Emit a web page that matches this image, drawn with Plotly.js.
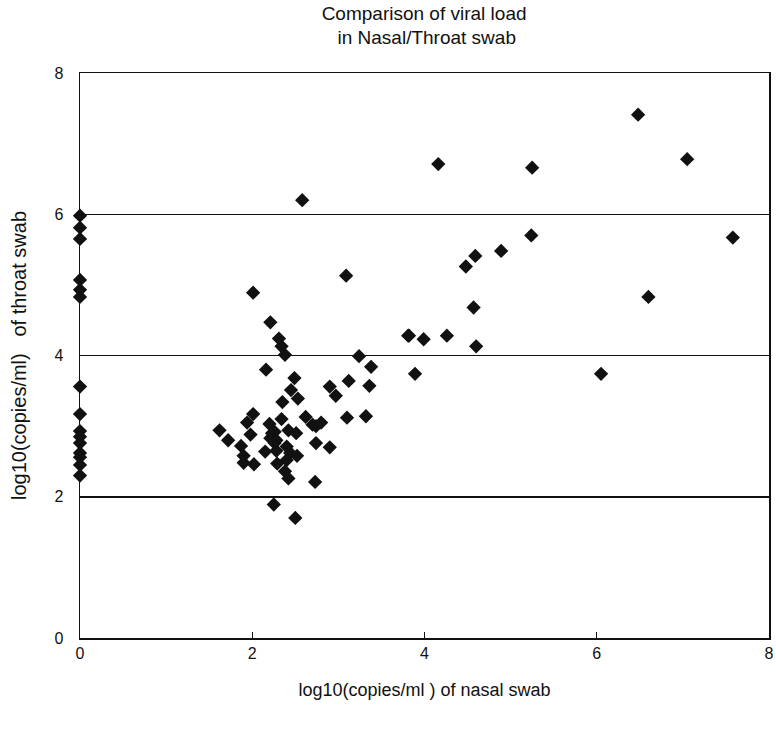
<!DOCTYPE html>
<html>
<head>
<meta charset="utf-8">
<script src="https://cdn.plot.ly/plotly-3.0.1.min.js"></script>
<style>body{margin:0;background:#fff}#chart{width:776px;height:729px}</style>
</head>
<body>
<div id="chart"></div>
<script>
// Nasal swab log10 values (x) and throat swab log10 values (y)
const nasalZero = [0,0,0,0,0,0,0,0,0,0,0,0,0,0,0];
const throatZero = [5.98,5.81,5.65,5.07,4.93,4.83,3.56,3.17,2.93,2.85,2.76,2.62,2.56,2.45,2.30];

const nasalCluster = [2.21,2.31,2.34,2.38,3.24,3.38,2.16,2.49,3.12,2.45,3.36,2.90,2.97,2.53,2.35,2.01,2.34,3.10,3.32,2.62,1.94,2.20,1.62,1.72,1.98,2.26,2.42,2.51,2.70,2.74,2.80,2.21,2.26,2.74,2.90,1.87,2.15,2.28,2.40,2.44,2.52,1.90,1.90,2.02,2.40,2.29,2.38,2.42,2.73,2.25,2.50,2.23,2.28,2.01,2.58,3.09];
const throatCluster = [4.47,4.24,4.13,4.01,3.99,3.84,3.80,3.68,3.64,3.51,3.57,3.56,3.43,3.39,3.34,3.17,3.10,3.12,3.14,3.13,3.05,3.03,2.94,2.80,2.88,2.92,2.94,2.90,3.02,3.00,3.05,2.83,2.76,2.76,2.70,2.72,2.64,2.65,2.71,2.62,2.58,2.58,2.48,2.46,2.52,2.47,2.36,2.26,2.21,1.89,1.70,2.90,2.80,4.89,6.20,5.13];

const nasalHigh = [4.16,5.25,6.48,7.05,5.24,7.58,4.89,4.59,4.48,4.57,6.60,3.82,3.99,4.26,4.60,3.89,6.05,3.81];
const throatHigh = [6.71,6.66,7.41,6.78,5.70,5.67,5.48,5.41,5.26,4.68,4.83,4.28,4.23,4.28,4.13,3.74,3.74,4.28];

const xs = nasalZero.concat(nasalCluster, nasalHigh);
const ys = throatZero.concat(throatCluster, throatHigh);

const xTicks = [0,2,4,6,8];
const yTicks = [0,2,4,6,8];

const trace = {
  x: xs, y: ys, type: 'scatter', mode: 'markers',
  marker: {symbol: 'diamond', size: 11, color: '#111111', line: {width: 0}},
  cliponaxis: false, hoverinfo: 'skip'
};

const font = {family: 'Liberation Sans, Arial, sans-serif', color: '#111111'};

const layout = {
  width: 776, height: 729,
  margin: {l: 80, r: 7, t: 73, b: 91},
  paper_bgcolor: '#ffffff', plot_bgcolor: '#ffffff',
  showlegend: false,
  font: Object.assign({size: 16}, font),
  title: {
    text: 'Comparison of viral load<br> in Nasal/Throat swab',
    font: Object.assign({size: 19}, font),
    x: 0.5465, xanchor: 'center', y: 0.973, yanchor: 'top'
  },
  xaxis: {
    range: [0, 8], tickvals: xTicks, ticktext: xTicks.map(String),
    showgrid: false, zeroline: false,
    showline: true, linecolor: '#111111', linewidth: 1.5, mirror: true,
    ticks: 'inside', ticklen: 6, tickcolor: '#111111', tickwidth: 1,
    tickfont: Object.assign({size: 16}, font),
    title: {text: 'log10(copies/ml ) of nasal swab', font: Object.assign({size: 18}, font), standoff: 22}
  },
  yaxis: {
    range: [0, 8], tickvals: yTicks, ticktext: yTicks.map(String),
    showgrid: true, gridcolor: '#111111', gridwidth: 1.5, zeroline: false,
    showline: true, linecolor: '#111111', linewidth: 1.5, mirror: true,
    ticks: '', ticklabelstandoff: 12,
    tickfont: Object.assign({size: 16}, font),
    title: {text: 'log10(copies/ml)   of throat swab', font: Object.assign({size: 20}, font), standoff: 22}
  }
};

Plotly.newPlot('chart', [trace], layout, {displayModeBar: false, staticPlot: true});
</script>
</body>
</html>
